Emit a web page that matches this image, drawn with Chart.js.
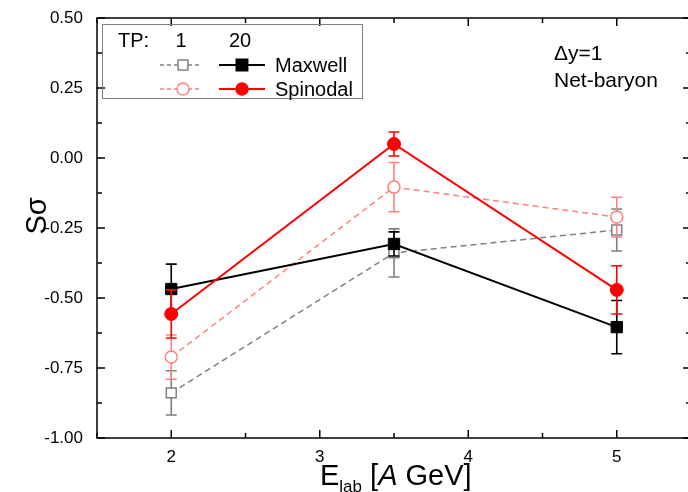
<!DOCTYPE html>
<html>
<head>
<meta charset="utf-8">
<script src="https://cdn.jsdelivr.net/npm/chart.js@4"></script>
<style>
  html, body { margin: 0; padding: 0; background: #fff; overflow: hidden; }
  #wrap { width: 700px; height: 492px; }
</style>
</head>
<body>
<div id="wrap"><canvas id="chart" width="700" height="492"></canvas></div>
<script>
// beam energies and S*sigma values
const energies = [2, 3.5, 5];
const maxwell20 = [-0.468, -0.307, -0.604];
const maxwell20Err = [0.089, 0.043, 0.095];
const spinodal20 = [-0.557, 0.05, -0.471];
const spinodal20Err = [0.086, 0.043, 0.086];
const maxwell1 = [-0.839, -0.339, -0.257];
const maxwell1Err = [0.079, 0.086, 0.075];
const spinodal1 = [-0.711, -0.104, -0.211];
const spinodal1Err = [0.079, 0.088, 0.071];

const xTickLabels = ["2", "3", "4", "5"];
const yTickLabels = ["0.50", "0.25", "0.00", "-0.25", "-0.50", "-0.75", "-1.00"];
const legendHeader = ["TP:", "1", "20"];
const seriesNames = ["Maxwell", "Spinodal"];
const noteLines = ["\u0394y=1", "Net-baryon"];

const FONT = "'Liberation Sans', Arial, sans-serif";
const RED = "#ff0000";
const PINK = "#ff8080";
const GREY = "#808080";

function points(ys) {
  return energies.map((x, i) => ({ x: x, y: ys[i] }));
}

function drawMarker(ctx, style, x, y, color, filled) {
  ctx.save();
  ctx.beginPath();
  if (style == "rect") {
    var s = filled ? 5.7 : 4.9;
    ctx.rect(x - s, y - s, 2 * s, 2 * s);
  } else {
    ctx.arc(x, y, 6, 0, Math.PI * 2);
  }
  ctx.fillStyle = filled ? color : "#fff";
  ctx.fill();
  ctx.lineWidth = 1.5;
  ctx.strokeStyle = color;
  ctx.stroke();
  ctx.restore();
}

// error bars, drawn just before each dataset so the markers sit on top
const errorBars = {
  id: "errorBars",
  beforeDatasetDraw(chart, args) {
    var ds = chart.data.datasets[args.index];
    var ctx = chart.ctx;
    var xs = chart.scales.x, ys = chart.scales.y;
    ctx.save();
    ctx.strokeStyle = ds.borderColor;
    ctx.lineWidth = 1.6;
    ds.data.forEach(function (p, i) {
      var px = xs.getPixelForValue(p.x);
      var top = ys.getPixelForValue(p.y + ds.errors[i]);
      var bot = ys.getPixelForValue(p.y - ds.errors[i]);
      ctx.beginPath();
      ctx.moveTo(px, top); ctx.lineTo(px, bot);
      ctx.moveTo(px - 5.5, top); ctx.lineTo(px + 5.5, top);
      ctx.moveTo(px - 5.5, bot); ctx.lineTo(px + 5.5, bot);
      ctx.stroke();
    });
    ctx.restore();
  },
};

// frame with inward ticks on all sides, titles, legend and note
const decorations = {
  id: "decorations",
  afterDraw(chart) {
    var ctx = chart.ctx;
    var a = chart.chartArea;
    var xs = chart.scales.x, ys = chart.scales.y;
    ctx.save();
    ctx.strokeStyle = "#000";
    ctx.lineWidth = 1.5;
    ctx.strokeRect(a.left, a.top, a.right - a.left, a.bottom - a.top);

    ctx.beginPath();
    xs.ticks.forEach(function (t) {
      var px = xs.getPixelForValue(t.value);
      var len = xTickLabels.includes(String(t.value)) ? 8 : 5;
      ctx.moveTo(px, a.bottom); ctx.lineTo(px, a.bottom - len);
      ctx.moveTo(px, a.top); ctx.lineTo(px, a.top + len);
    });
    ys.ticks.forEach(function (t) {
      var py = ys.getPixelForValue(t.value);
      var len = yTickLabels.includes(t.value.toFixed(2)) ? 8 : 5;
      ctx.moveTo(a.left, py); ctx.lineTo(a.left + len, py);
      ctx.moveTo(a.right, py); ctx.lineTo(a.right - len, py);
    });
    ctx.stroke();

    // y title
    ctx.fillStyle = "#000";
    ctx.save();
    ctx.translate(46, 216);
    ctx.rotate(-Math.PI / 2);
    ctx.font = "29px " + FONT;
    ctx.textAlign = "center";
    ctx.textBaseline = "alphabetic";
    ctx.fillText("S\u03c3", 0, 0);
    ctx.restore();

    // x title: E_lab [A GeV]
    var x = 320, base = 485;
    ctx.textAlign = "left";
    ctx.textBaseline = "alphabetic";
    ctx.font = "29px " + FONT;
    ctx.fillText("E", x, base);
    x += ctx.measureText("E").width;
    ctx.font = "17px " + FONT;
    ctx.fillText("lab", x, base + 7);
    x += ctx.measureText("lab").width;
    ctx.font = "29px " + FONT;
    ctx.fillText(" [", x, base);
    x += ctx.measureText(" [").width;
    ctx.font = "italic 29px " + FONT;
    ctx.fillText("A", x, base);
    x += ctx.measureText("A").width;
    ctx.font = "29px " + FONT;
    ctx.fillText(" GeV]", x, base);

    // note
    ctx.font = "21px " + FONT;
    ctx.fillText(noteLines[0], 554, 60);
    ctx.fillText(noteLines[1], 554, 87);

    // legend
    ctx.strokeStyle = "#7f7f7f";
    ctx.lineWidth = 1;
    ctx.strokeRect(102.5, 24.5, 260, 74);
    ctx.font = "20px " + FONT;
    ctx.fillText(legendHeader[0], 118, 47);
    ctx.textAlign = "center";
    ctx.fillText(legendHeader[1], 181, 47);
    ctx.fillText(legendHeader[2], 240, 47);
    ctx.textAlign = "left";

    var rows = [
      { y: 65, light: GREY, dark: "#000", style: "rect" },
      { y: 89, light: PINK, dark: RED, style: "circle" },
    ];
    rows.forEach(function (r, i) {
      ctx.save();
      ctx.setLineDash([4, 3]);
      ctx.lineWidth = 1.5;
      ctx.strokeStyle = r.light;
      ctx.beginPath();
      ctx.moveTo(160, r.y); ctx.lineTo(202, r.y);
      ctx.stroke();
      ctx.setLineDash([]);
      ctx.lineWidth = 2;
      ctx.strokeStyle = r.dark;
      ctx.beginPath();
      ctx.moveTo(219, r.y); ctx.lineTo(265, r.y);
      ctx.stroke();
      ctx.restore();
      drawMarker(ctx, r.style, 183, r.y, r.light, false);
      drawMarker(ctx, r.style, 242, r.y, r.dark, true);
      ctx.fillStyle = "#000";
      ctx.fillText(seriesNames[i], 275, r.y + 7);
    });
    ctx.restore();
  },
};

const config = {
  type: "scatter",
  data: {
    datasets: [
      {
        label: "Spinodal TP 20",
        data: points(spinodal20),
        errors: spinodal20Err,
        showLine: true,
        borderColor: RED,
        backgroundColor: RED,
        borderWidth: 2,
        pointStyle: "circle",
        pointRadius: 6.5,
        pointBorderWidth: 1,
      },
      {
        label: "Maxwell TP 20",
        data: points(maxwell20),
        errors: maxwell20Err,
        showLine: true,
        borderColor: "#000",
        backgroundColor: "#000",
        borderWidth: 2,
        pointStyle: "rect",
        pointRadius: 8,
        pointBorderWidth: 1,
      },
      {
        label: "Spinodal TP 1",
        data: points(spinodal1),
        errors: spinodal1Err,
        showLine: true,
        borderColor: PINK,
        backgroundColor: "#fff",
        borderWidth: 1.5,
        borderDash: [6, 4],
        pointStyle: "circle",
        pointRadius: 6,
        pointBorderWidth: 1.5,
      },
      {
        label: "Maxwell TP 1",
        data: points(maxwell1),
        errors: maxwell1Err,
        showLine: true,
        borderColor: GREY,
        backgroundColor: "#fff",
        borderWidth: 1.5,
        borderDash: [6, 4],
        pointStyle: "rect",
        pointRadius: 7,
        pointBorderWidth: 1.5,
      },
    ],
  },
  options: {
    responsive: false,
    animation: false,
    layout: { padding: { top: 18, right: 7, left: 0, bottom: 0 } },
    plugins: { legend: { display: false }, tooltip: { enabled: false } },
    scales: {
      x: {
        type: "linear",
        min: 1.5,
        max: 5.5,
        border: { display: false },
        grid: { display: false, drawTicks: false },
        ticks: {
          stepSize: 0.5,
          autoSkip: false,
          maxRotation: 0,
          padding: 9,
          color: "#000",
          font: { family: FONT, size: 17 },
          callback: function (value) {
            var s = String(value);
            return xTickLabels.includes(s) ? s : "";
          },
        },
        afterFit: function (scale) {
          scale.height = 54;
          scale.paddingLeft = 0;
          scale.paddingRight = 0;
        },
      },
      y: {
        min: -1,
        max: 0.5,
        border: { display: false },
        grid: { display: false, drawTicks: false },
        ticks: {
          stepSize: 0.125,
          autoSkip: false,
          padding: 14,
          color: "#000",
          font: { family: FONT, size: 17 },
          callback: function (value) {
            var s = value.toFixed(2);
            return yTickLabels.includes(s) ? s : "";
          },
        },
        afterFit: function (scale) {
          scale.width = 97;
          scale.paddingTop = 0;
          scale.paddingBottom = 0;
        },
      },
    },
  },
  plugins: [errorBars, decorations],
};

var ctx = document.getElementById("chart").getContext("2d");
var myChart = new Chart(ctx, config);
</script>
</body>
</html>
